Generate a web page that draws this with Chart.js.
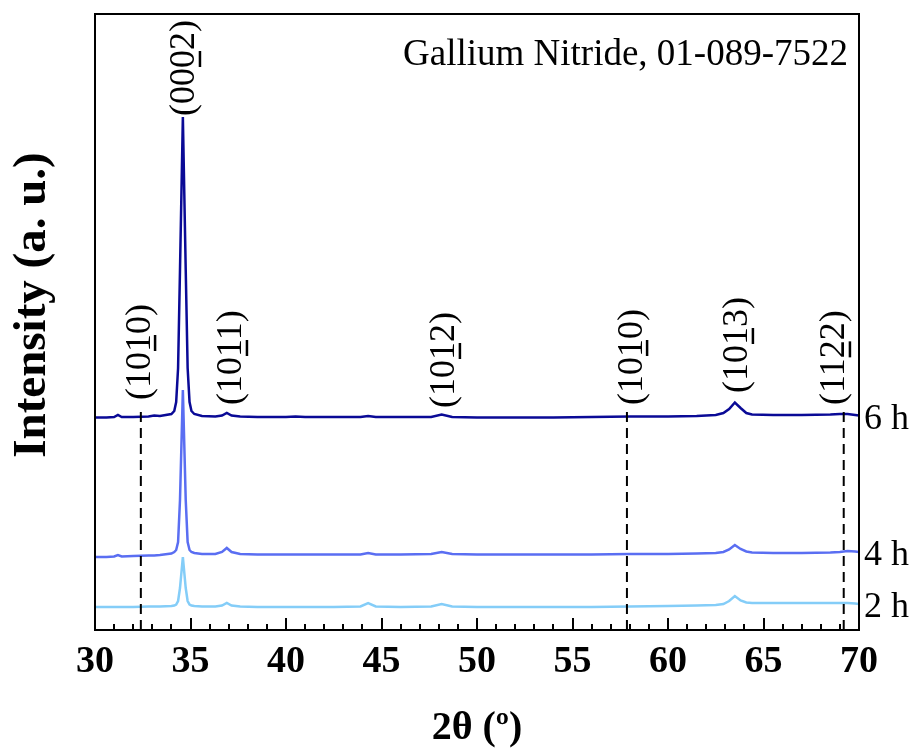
<!DOCTYPE html>
<html>
<head>
<meta charset="utf-8">
<script src="https://cdn.jsdelivr.net/npm/chart.js@4.4.0/dist/chart.umd.min.js"></script>
<style>
  html, body { margin: 0; padding: 0; background: #fff; }
  canvas { display: block; }
</style>
</head>
<body>
<canvas id="xrd" width="922" height="755"></canvas>
<script>
// 2theta sample positions (deg), denser around the peaks
const twoTheta = [30, 30.6, 31.0, 31.2, 31.4, 32.0, 32.8, 33.1, 33.4, 34.0,
  34.15, 34.25, 34.35, 34.45, 34.6, 34.75, 34.85, 34.95, 35.05, 35.2,
  35.6, 36.3, 36.65, 36.9, 37.15, 37.6, 38.5, 40.0, 40.5, 41.0,
  42.5, 43.9, 44.3, 44.7, 46.0, 47.6, 48.15, 48.7, 50, 52,
  54, 56, 58, 60, 61.5, 62.5, 62.9, 63.2, 63.5, 63.8,
  64.1, 64.4, 65.5, 67, 68.5, 69.0, 69.4, 69.8, 70];

// intensities (a.u., already offset per curve)
const int6h = [212.5, 212.5, 213, 215, 213, 213, 213.5, 214.5, 214, 216,
  219, 228, 262, 360, 513, 360, 262, 228, 219, 216,
  214, 213.5, 214.5, 217, 214.5, 213.5, 213, 213, 213.5, 213,
  213, 213, 214, 213, 213, 213, 215.5, 213, 212.5, 212.5,
  212.5, 213, 213.5, 213.5, 214, 215, 217, 221, 227.5, 222,
  217, 215.5, 215, 215, 215.5, 216, 216, 215, 214.5];

const int4h = [73, 73, 73.5, 75, 73.5, 74, 74.5, 74.5, 75, 76.5,
  78, 80, 88, 130, 240, 130, 88, 80, 78, 77,
  76, 76, 78, 82, 78, 76, 75.5, 75.5, 75.5, 75.5,
  75.5, 75.5, 77, 75.5, 75.5, 76, 78, 76, 75.5, 75.5,
  75.5, 75.5, 76, 76, 76.5, 77, 78, 80.5, 85, 81,
  78.5, 77.5, 77, 77, 77.5, 78, 79, 78.5, 78];

const int2h = [23, 23, 23, 23, 23, 23, 23.5, 23.5, 23.5, 24,
  24.5, 25.5, 29, 42, 73, 42, 29, 25.5, 24.5, 24,
  23.5, 23.5, 24.5, 27, 24.5, 23.5, 23, 23, 23, 23,
  23, 23.5, 27, 23.5, 23, 23.5, 26, 23.5, 23, 23,
  23, 23, 23.5, 24, 24.5, 25, 26, 29, 34, 29.5,
  27.5, 27, 27, 27, 27, 27, 27, 26.5, 26];

const seriesNames = ["6 h", "4 h", "2 h"];
const seriesColors = ["#0a0a96", "#5a6ef2", "#84cdf8"];

// reference (dashed) lines and reflection labels
const refLines = [32.4, 57.85, 69.2];
const refTop = 220;
const peakLabels = ["(1010)", "(0002)", "(1011)", "(1012)", "(1010)", "(1013)", "(1122)"];
const peakTheta = [32.36, 34.71, 37.17, 48.32, 58.12, 63.66, 68.74];
const peakBase = [230, 514, 225, 222, 225, 237, 225];

const serif = '"Liberation Serif", "Times New Roman", serif';

const toPts = arr => twoTheta.map((x, i) => ({ x, y: arr[i] }));

const datasets = [];
refLines.forEach(v => {
  datasets.push({
    data: [{ x: v, y: 0 }, { x: v, y: refTop }],
    borderColor: "#000", borderWidth: 2, borderDash: [10, 6],
    pointRadius: 0
  });
});
[int2h, int4h, int6h].forEach((arr, k) => {
  const idx = 2 - k;
  datasets.push({
    label: seriesNames[idx],
    data: toPts(arr),
    borderColor: seriesColors[idx],
    borderWidth: 2.5,
    pointRadius: 0,
    tension: 0
  });
});

const decor = {
  id: "decor",
  afterDraw(chart) {
    const { ctx, chartArea: a, scales: { x, y } } = chart;
    ctx.save();
    ctx.strokeStyle = "#000";
    ctx.lineWidth = 2;
    ctx.strokeRect(a.left, a.top, a.right - a.left, a.bottom - a.top);

    // inward ticks on the bottom axis
    for (let v = 30; v <= 70; v++) {
      const px = Math.round(x.getPixelForValue(v));
      const len = v % 5 === 0 ? 12 : 6;
      ctx.beginPath();
      ctx.moveTo(px, a.bottom);
      ctx.lineTo(px, a.bottom - len);
      ctx.stroke();
    }

    ctx.fillStyle = "#000";
    // reflection labels, rotated, third index underlined
    ctx.font = "36px " + serif;
    ctx.textAlign = "left";
    ctx.textBaseline = "middle";
    peakLabels.forEach((txt, i) => {
      const px = x.getPixelForValue(peakTheta[i]);
      const py = y.getPixelForValue(peakBase[i]);
      ctx.save();
      ctx.translate(px, py);
      ctx.rotate(-Math.PI / 2);
      ctx.fillText(txt, 0, 0);
      const w0 = ctx.measureText(txt.slice(0, 3)).width;
      const w1 = ctx.measureText(txt.charAt(3)).width;
      ctx.lineWidth = 2.5;
      ctx.beginPath();
      ctx.moveTo(w0 + 1, 15);
      ctx.lineTo(w0 + w1 - 1, 15);
      ctx.stroke();
      ctx.restore();
    });

    // sample labels on the right
    const lasts = [int6h, int4h, int2h].map(s => s[s.length - 1]);
    ctx.font = "36px " + serif;
    ctx.textBaseline = "alphabetic";
    seriesNames.forEach((n, i) => {
      ctx.fillText(n, a.right + 5, y.getPixelForValue(lasts[i]) + 13);
    });

    // phase reference
    ctx.font = "37px " + serif;
    ctx.textAlign = "right";
    ctx.fillText("Gallium Nitride, 01-089-7522", a.right - 11, 65);

    // axis titles
    ctx.font = "bold 40px " + serif;
    ctx.textAlign = "center";
    ctx.textBaseline = "middle";
    ctx.fillText("2θ (º)", (a.left + a.right) / 2, 729);

    ctx.save();
    ctx.font = "bold 47px " + serif;
    ctx.translate(33, 305);
    ctx.rotate(-Math.PI / 2);
    ctx.fillText("Intensity (a. u.)", 0, 0);
    ctx.restore();
    ctx.restore();
  }
};

new Chart(document.getElementById("xrd").getContext("2d"), {
  type: "line",
  data: { datasets },
  options: {
    responsive: false,
    animation: false,
    devicePixelRatio: 1,
    layout: { padding: { left: 95, right: 63, top: 14, bottom: 0 } },
    plugins: { legend: { display: false }, tooltip: { enabled: false } },
    scales: {
      x: {
        type: "linear", min: 30, max: 70,
        grid: { display: false, drawTicks: false },
        border: { display: false },
        ticks: {
          stepSize: 5, autoSkip: false, maxRotation: 0, padding: 9,
          color: "#000", font: { family: serif, size: 38, weight: "bold" }
        },
        afterFit: s => { s.height = 125; }
      },
      y: { display: false, min: 0, max: 616 }
    }
  },
  plugins: [decor]
});
</script>
</body>
</html>
